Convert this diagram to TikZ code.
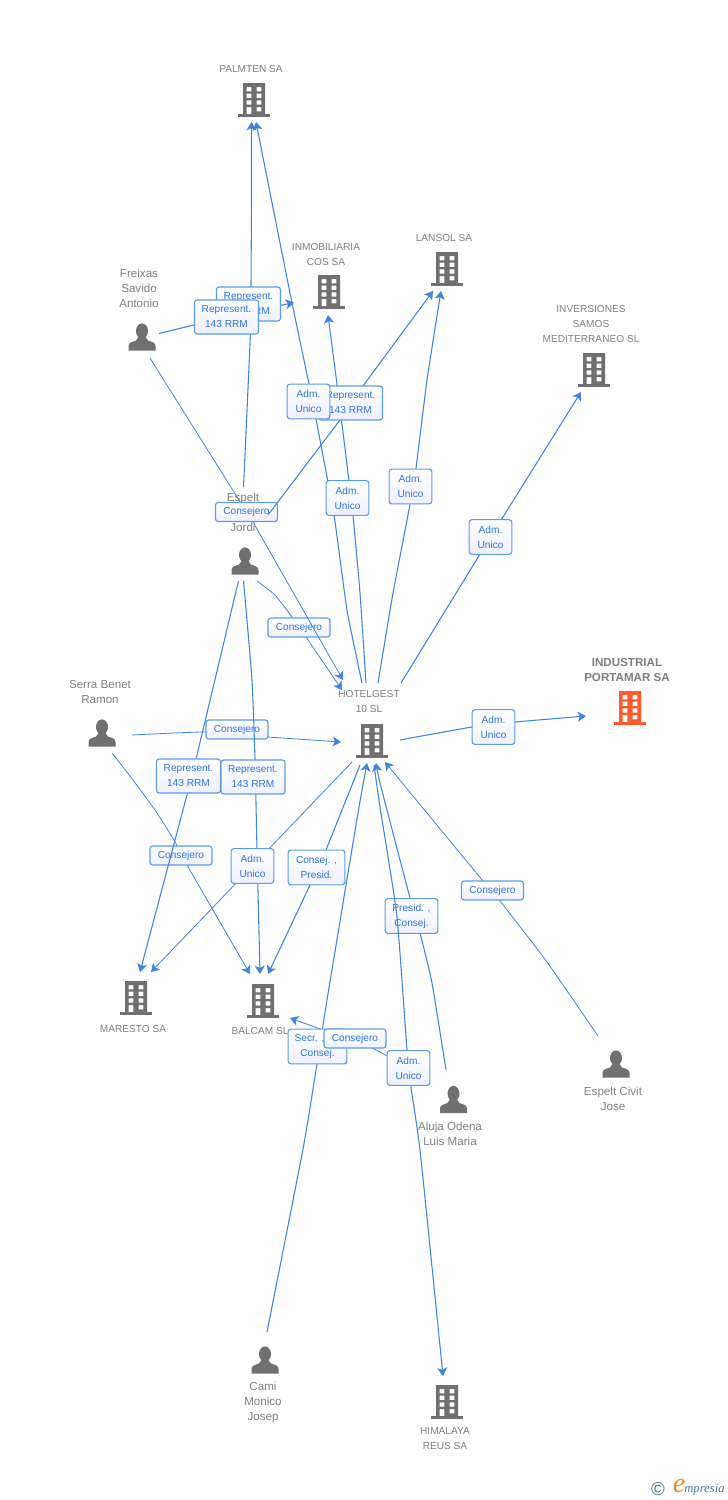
\documentclass[tikz,border=0pt]{standalone}
\usepackage{fontspec}
\setmainfont{Liberation Sans}
\newfontfamily\logofont{Liberation Serif}
\usetikzlibrary{arrows.meta}
\pgfdeclarelayer{edges}
\pgfdeclarelayer{lowtags}
\pgfdeclarelayer{overedges}
\pgfdeclarelayer{midtags}
\pgfdeclarelayer{topedges}
\pgfsetlayers{edges,lowtags,overedges,midtags,topedges,main}
\definecolor{edgeblue}{HTML}{3F84E0}
\definecolor{boxblue}{HTML}{5C9BEA}
\definecolor{textblue}{HTML}{2F74DC}
\definecolor{icongray}{HTML}{707070}
\definecolor{textgray}{HTML}{808080}
\definecolor{mainorange}{HTML}{FF5C2E}
\definecolor{logoteal}{HTML}{3B7C94}
\definecolor{logoorange}{HTML}{EE8A2A}
\tikzset{
  edge/.style={draw=edgeblue,line width=0.8pt,-{Stealth[length=6.2pt,width=7.5pt,inset=1.6pt]}},
  thinedge/.style={edge,line width=0.6pt},
  tag/.style={draw=boxblue,line width=0.85pt,rounded corners=2pt,top color=white,bottom color=white!94!blue,
    text=textblue,inner sep=0pt,align=center,font=\fontsize{7.6}{11.25}\selectfont},
  tagwide/.style={tag,minimum width=48pt,minimum height=25.5pt},
  tagadm/.style={tag,minimum width=32pt,minimum height=26pt},
  tagcons/.style={tag,minimum width=46.5pt,minimum height=14.2pt},
  tagmid/.style={tag,minimum width=42.5pt,minimum height=26pt},
  capname/.style={text=textgray,inner sep=0pt,align=center,font=\fontsize{7.6}{11.25}\selectfont},
  mixname/.style={text=textgray,inner sep=0pt,align=center,font=\fontsize{8.7}{11.25}\selectfont},
  mainname/.style={text=textgray,inner sep=0pt,align=center,font=\fontsize{8.7}{11.25}\selectfont\bfseries},
  icon/.style={inner sep=0pt,minimum width=24pt,minimum height=25pt},
  curve/.style={smooth,tension=0.3},
}
\newcommand{\bldg}[4]{% name, x, y, colour
  \node[icon] (#1) at (#2,#3) {};
  \begin{scope}[shift={(#2,#3)}]
    \fill[#4,even odd rule] (-11,-17) rectangle (11,14)
      (-7.3,-13) rectangle (-2.7,-8.7) (2.7,-13) rectangle (7.3,-8.7)
      (-7.3,-6.3) rectangle (-2.7,-2) (2.7,-6.3) rectangle (7.3,-2)
      (-7.3,0.3) rectangle (-2.7,4.7) (2.7,0.3) rectangle (7.3,4.7)
      (-7.3,7) rectangle (-2.7,14) (2.7,7) rectangle (7.3,11.3);
    \fill[#4] (-16,14) rectangle (16,17);
  \end{scope}}
\newcommand{\persona}[3]{% name, x, y
  \node[icon] (#1) at (#2,#3) {};
  \begin{scope}[shift={(#2,#3)}]
    \fill[icongray] (0,-6) ellipse (6 and 7.6);
    \fill[icongray] (-13.5,13.5) -- (-13.5,9) .. controls (-13.5,5.5) and (-10,5) .. (-6,3.5)
      -- (-3.5,0) -- (3.5,0) -- (6,3.5) .. controls (10,5) and (13.5,5.5) .. (13.5,9) -- (13.5,13.5) -- cycle;
  \end{scope}}
\begin{document}
\begin{tikzpicture}[x=0.75pt,y=-0.75pt]
\useasboundingbox (0,0) rectangle (728,1500);
\begin{pgfonlayer}{edges}
\fill[white] (0,0) rectangle (728,1500);
\end{pgfonlayer}

% companies
\bldg{palmten}{254}{100}{icongray}
\bldg{inmo}{329}{292}{icongray}
\bldg{lansol}{447}{269}{icongray}
\bldg{inver}{594}{370}{icongray}
\bldg{hotel}{372}{741}{icongray}
\bldg{maresto}{136}{998}{icongray}
\bldg{balcam}{263}{1001}{icongray}
\bldg{himalaya}{447}{1402}{icongray}
\bldg{portamar}{630}{708}{mainorange}
% people
\persona{freixas}{142}{337}
\persona{jordi}{245}{561}
\persona{serra}{102}{733}
\persona{aluja}{453.5}{1099.5}
\persona{civit}{616}{1064}
\persona{cami}{265}{1360}

% names
\node[capname] (palmten-t) at (251,69.5) {PALMTEN SA};
\node[capname] (inmo-t) at (326,254.5) {INMOBILIARIA\\COS SA};
\node[capname] (lansol-t) at (444,238.5) {LANSOL SA};
\node[capname] (inver-t) at (591,324.5) {INVERSIONES\\SAMOS\\MEDITERRANEO SL};
\node[capname] (hotel-t) at (369,702) {HOTELGEST\\10 SL};
\node[capname] (maresto-t) at (133,1028.5) {MARESTO SA};
\node[capname] (balcam-t) at (260,1030.5) {BALCAM SL};
\node[capname] (himalaya-t) at (445,1439) {HIMALAYA\\REUS SA};
\node[mainname] (portamar-t) at (627,669.5) {INDUSTRIAL\\PORTAMAR SA};
\node[mixname] (freixas-t) at (139,288.5) {Freixas\\Savido\\Antonio};
\begin{pgfonlayer}{midtags}
\node[mixname] (jordi-t) at (243,512) {Espelt\\\mbox{}\\Jordi};
\end{pgfonlayer}
\node[mixname] (serra-t) at (100,692) {Serra Benet\\Ramon};
\node[mixname] (aluja-t) at (450,1134) {Aluja Odena\\Luis Maria};
\node[mixname] (civit-t) at (613,1099) {Espelt Civit\\Jose};
\node[mixname] (cami-t) at (263,1402.5) {Cami\\Monico\\Josep};

% free ends of the connectors
\coordinate (jordi-a) at (243.5,487);
\coordinate (palmten-a) at (251.5,122);
\coordinate (freixas-a) at (159,333.5);
\coordinate (inmo-a) at (294,302.5);
\coordinate (hotel-a) at (362,683);
\coordinate (palmten-b) at (256,122);
\coordinate (hotel-b) at (366,683);
\coordinate (inmo-b) at (328,315);
\coordinate (hotel-c) at (378,683);
\coordinate (lansol-b) at (441,291);
\coordinate (hotel-d) at (401,683);
\coordinate (inver-a) at (581,392);
\coordinate (jordi-b) at (268,515);
\coordinate (lansol-a) at (433,291);
\coordinate (freixas-b) at (150,358);
\coordinate (hotel-e) at (343,680);
\coordinate (jordi-c) at (257,581);
\coordinate (hotel-f) at (342,690);
\coordinate (jordi-d) at (238.5,581);
\coordinate (maresto-a) at (140,972);
\coordinate (jordi-e) at (243.5,581);
\coordinate (balcam-a) at (260,974);
\coordinate (serra-a) at (132,735);
\coordinate (hotel-g) at (341,742);
\coordinate (serra-b) at (112,753);
\coordinate (balcam-b) at (250,974);
\coordinate (hotel-h) at (352,762);
\coordinate (maresto-b) at (151,972);
\coordinate (hotel-i) at (360,765);
\coordinate (balcam-c) at (268,974);
\coordinate (cami-a) at (267,1332);
\coordinate (hotel-j) at (367,763);
\coordinate (aluja-a) at (446,1070);
\coordinate (hotel-k) at (376,763);
\coordinate (hotel-l) at (374,765);
\coordinate (himalaya-a) at (443,1376);
\coordinate (civit-a) at (598,1036);
\coordinate (hotel-m) at (385,762);
\coordinate (hotel-n) at (400,740);
\coordinate (portamar-a) at (586,716);
\coordinate (aluja-b) at (400,1063);
\coordinate (balcam-d) at (290,1018);

% relation labels (later ones lie over earlier ones)
\node[tagwide] (r1) at (248.5,304) {Represent.\\143 RRM};
\node[tagwide] (r2) at (226.5,317) {Represent.\\143 RRM};
\node[tagwide] (r3) at (350.5,403) {Represent.\\143 RRM};
\node[tagadm] (a1) at (308.5,401.5) {Adm.\\Unico};
\node[tagadm] (a2) at (347.5,498) {Adm.\\Unico};
\node[tagadm] (a3) at (410.5,486.5) {Adm.\\Unico};
\node[tagadm] (a4) at (490.5,537) {Adm.\\Unico};
\begin{pgfonlayer}{midtags}
\node[tagcons] (c1) at (246.5,512) {Consejero};
\end{pgfonlayer}
\begin{pgfonlayer}{lowtags}
\node[tagcons] (c2) at (299,627.5) {Consejero};
\node[tagcons] (c3) at (237,729.5) {Consejero};
\node[tagcons] (c4) at (181,855.5) {Consejero};
\node[tagmid,minimum width=39.5pt] (m2) at (411.5,916) {Presid. ,\\Consej.};
\end{pgfonlayer}
\node[tagadm] (a5) at (493.5,727) {Adm.\\Unico};
\node[tagwide] (r4) at (188.5,776) {Represent.\\143 RRM};
\node[tagwide] (r5) at (253,777) {Represent.\\143 RRM};
\node[tagadm] (a6) at (252.5,866) {Adm.\\Unico};
\node[tagmid] (m1) at (316.5,867.5) {Consej. ,\\Presid.};
\node[tagcons] (c5) at (492.5,890.5) {Consejero};
\node[tagmid,minimum width=44pt] (m3) at (317.5,1046.5) {\mbox{Secr. ,\hspace{12pt}}\\Consej.};
\node[tagcons] (c6) at (355,1038.5) {Consejero};
\node[tagadm] (a7) at (408.5,1068) {Adm.\\Unico};

% connectors
\begin{pgfonlayer}{edges}
\draw[edge] plot[curve] coordinates {(jordi-a) (251,321) (251,287) (251.5,200) (palmten-a)};
\draw[edge] (freixas-a) -- (r2.center) -- (inmo-a);
\draw[edge] plot[curve] coordinates {(hotel-a) (347,610) (334,515) (316,419) (309,384) (290,293) (palmten-b)};
\draw[edge] plot[curve] coordinates {(hotel-b) (360,593) (353,515) (349,481) (339,400) (inmo-b)};
\draw[edge] plot[curve] coordinates {(hotel-c) (393,593) (408,515) (416,468) (427,380) (lansol-b)};
\draw[edge] (hotel-d) -- (a4.center) -- (inver-a);
\draw[thinedge] plot[curve] coordinates {(jordi-c) (275,595) (292,617) (306,637) (hotel-f)};
\draw[thinedge] plot[curve] coordinates {(serra-a) (205,732) (268,737) (hotel-g)};
\draw[thinedge] plot[curve] coordinates {(serra-b) (133,780) (155,810) (174,840) (187,865) (balcam-b)};
\draw[thinedge] (hotel-h) -- (a6.center) -- (maresto-b);
\draw[edge] (hotel-i) -- (326,850) -- (m1.center) -- (310,885) -- (balcam-c);
\draw[edge] plot[curve] coordinates {(cami-a) (303,1149) (317,1064) (327,1000) (358,813) (hotel-j)};
\draw[edge] plot[curve] coordinates {(aluja-a) (432,983) (420,933) (410,898) (380,783) (hotel-k)};
\draw[thinedge] plot[curve] coordinates {(civit-a) (547,962) (500,901) (483,881) (hotel-m)};
\draw[edge] plot[curve] coordinates {(hotel-n) (472,727) (515,722) (portamar-a)};
\draw[thinedge] (aluja-b) -- (c6.center) -- (323,1030) -- (balcam-d);
\end{pgfonlayer}
% these connectors pass over labels drawn before them
\begin{pgfonlayer}{overedges}
\draw[thinedge] (freixas-b) -- (c1.center) -- (253,522) -- (hotel-e);
\draw[edge] (jordi-d) -- (192,776) -- (maresto-a);
\draw[edge] plot[curve] coordinates {(jordi-e) (252,680) (255,759) (257,850) (balcam-a)};
\draw[edge] plot[curve] coordinates {(hotel-l) (380,807) (397,917) (a7.center) (420,1150) (himalaya-a)};
\end{pgfonlayer}
\begin{pgfonlayer}{topedges}
\draw[edge] (jordi-b) -- (340,420) -- (r3.center) -- (363,386) -- (lansol-a);
\end{pgfonlayer}

% logo
\node[text=logoteal,inner sep=0pt,font=\fontsize{14}{14}\selectfont] (logoc) at (658,1489) {©};
\node[text=logoorange,inner sep=0pt,font=\logofont\itshape\fontsize{21}{21}\selectfont] (logoe) at (679,1486) {e};
\node[text=logoteal,inner sep=0pt,anchor=west,font=\logofont\itshape\fontsize{9.5}{9.5}\selectfont] (logot) at (684,1490) {mpresia};
\end{tikzpicture}
\end{document}
